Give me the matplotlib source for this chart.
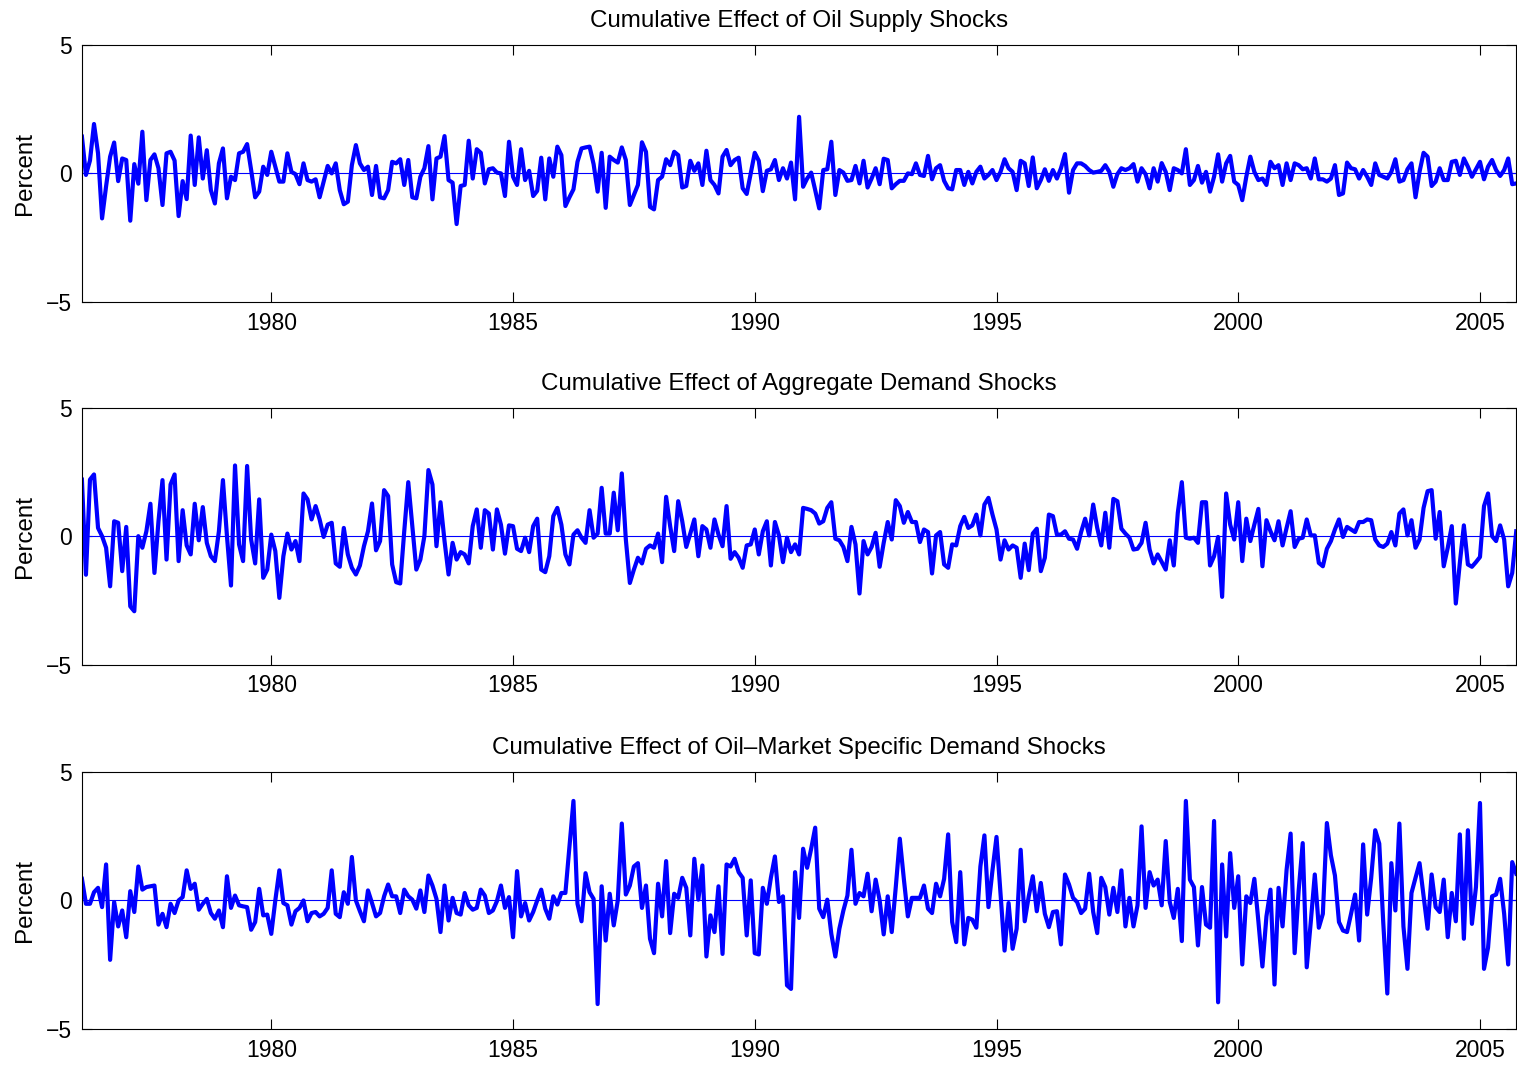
import numpy as np
import matplotlib
matplotlib.use("Agg")
import matplotlib.pyplot as plt

plt.rcParams['font.family'] = ['Liberation Sans', 'DejaVu Sans']

# monthly observations, Feb 1976 .. Oct 2005
months = 1976 + np.arange(1, 358) / 12.0

oil_supply = [
    1.43, -0.06, 0.5, 1.92, 0.78, -1.75, -0.5, 0.65, 1.2, -0.3,
    0.58, 0.52, -1.84, 0.36, -0.4, 1.62, -1.04, 0.52, 0.74, 0.2,
    -1.23, 0.78, 0.84, 0.5, -1.66, -0.3, -1.0, 1.47, -0.45, 1.4,
    -0.2, 0.9, -0.65, -1.17, 0.39, 0.97, -0.97, -0.13, -0.26, 0.78,
    0.84, 1.14, 0.13, -0.93, -0.71, 0.26, -0.06, 0.84, 0.26, -0.32,
    -0.32, 0.78, 0.06, -0.03, -0.42, 0.39, -0.26, -0.32, -0.23, -0.93,
    -0.32, 0.29, 0.0, 0.39, -0.65, -1.2, -1.1, 0.32, 1.1, 0.39,
    0.13, 0.26, -0.84, 0.29, -0.93, -0.97, -0.65, 0.45, 0.39, 0.55,
    -0.45, 0.52, -0.93, -0.97, -0.13, 0.2, 1.06, -1.01, 0.58, 0.65,
    1.45, -0.26, -0.36, -1.97, -0.49, -0.45, 1.27, -0.2, 0.94, 0.8,
    -0.39, 0.16, 0.2, 0.03, 0.0, -0.88, 1.23, -0.13, -0.45, 0.94,
    -0.26, 0.1, -0.88, -0.68, 0.61, -1.01, 0.58, -0.13, 1.04, 0.71,
    -1.27, -0.93, -0.62, 0.45, 0.97, 1.01, 1.04, 0.36, -0.71, 0.8,
    -1.34, 0.65, 0.52, 0.42, 1.01, 0.52, -1.23, -0.84, -0.45, 1.21,
    0.84, -1.3, -1.4, -0.26, -0.13, 0.55, 0.32, 0.84, 0.71, -0.55,
    -0.49, 0.49, 0.1, 0.39, -0.45, 0.88, -0.26, -0.45, -0.78, 0.65,
    0.91, 0.32, 0.52, 0.61, -0.58, -0.8, 0.0, 0.8, 0.49, -0.69,
    0.1, 0.16, 0.52, -0.26, 0.2, -0.2, 0.42, -1.01, 2.2, -0.52,
    -0.2, 0.03, -0.65, -1.36, 0.13, 0.16, 1.23, -0.84, 0.13, 0.03,
    -0.29, -0.26, 0.29, -0.39, 0.49, -0.55, -0.2, 0.2, -0.42, 0.57,
    0.52, -0.58, -0.42, -0.29, -0.29, 0.0, -0.03, 0.39, -0.06, -0.1,
    0.68, -0.23, 0.2, 0.32, -0.29, -0.58, -0.62, 0.13, 0.13, -0.45,
    0.06, -0.39, 0.06, 0.26, -0.2, -0.06, 0.13, -0.26, 0.06, 0.55,
    0.2, 0.06, -0.65, 0.49, 0.39, -0.49, 0.62, -0.58, -0.26, 0.16,
    -0.29, 0.13, -0.2, 0.2, 0.75, -0.75, 0.13, 0.39, 0.39, 0.29,
    0.13, 0.03, 0.06, 0.1, 0.32, 0.06, -0.52, -0.03, 0.2, 0.13,
    0.2, 0.36, -0.32, 0.2, -0.03, -0.58, 0.2, -0.32, 0.4, 0.06,
    -0.65, 0.2, 0.13, 0.0, 0.94, -0.45, -0.26, 0.29, -0.36, 0.06,
    -0.71, -0.13, 0.74, -0.32, 0.39, 0.68, -0.32, -0.45, -1.04, -0.13,
    0.65, 0.06, -0.26, -0.2, -0.45, 0.45, 0.2, 0.32, -0.45, 0.39,
    -0.26, 0.39, 0.32, 0.16, 0.2, -0.2, 0.58, -0.23, -0.23, -0.32,
    -0.2, 0.32, -0.84, -0.78, 0.42, 0.2, 0.16, -0.2, 0.13, -0.13,
    -0.45, 0.39, -0.06, -0.13, -0.2, 0.06, 0.55, -0.32, -0.26, 0.16,
    0.39, -0.93, 0.06, 0.8, 0.65, -0.49, -0.32, 0.2, -0.26, -0.26,
    0.45, 0.49, -0.06, 0.58, 0.26, -0.13, 0.16, 0.45, -0.23, 0.26,
    0.52, 0.13, -0.1, 0.13, 0.58, -0.42, -0.39,
]

aggregate_demand = [
    2.2, -1.5, 2.2, 2.4, 0.32, 0.0, -0.45, -1.95, 0.58, 0.52,
    -1.36, 0.36, -2.73, -2.92, 0.0, -0.45, 0.19, 1.26, -1.43, 0.58,
    2.18, -0.91, 2.01, 2.4, -0.97, 1.01, -0.36, -0.71, 1.26, -0.16,
    1.13, -0.26, -0.78, -0.97, 0.19, 2.18, 0.0, -1.92, 2.75, -0.32,
    -0.97, 2.73, -0.13, -1.06, 1.43, -1.62, -1.3, 0.06, -0.58, -2.4,
    -0.78, 0.1, -0.52, -0.19, -0.97, 1.66, 1.43, 0.65, 1.17, 0.65,
    -0.03, 0.45, 0.52, -1.06, -1.19, 0.32, -0.71, -1.23, -1.49, -1.14,
    -0.39, 0.19, 1.27, -0.55, -0.19, 1.79, 1.56, -1.1, -1.79, -1.84,
    0.19, 2.1, 0.39, -1.3, -0.91, 0.0, 2.57, 2.01, -0.39, 1.32,
    -0.19, -1.49, -0.26, -0.91, -0.62, -0.71, -1.06, 0.39, 1.04, -0.45,
    1.01, 0.88, -0.52, 1.04, 0.45, -0.68, 0.42, 0.39, -0.49, -0.58,
    -0.06, -0.62, 0.39, 0.68, -1.3, -1.4, -0.78, 0.78, 1.1, 0.45,
    -0.71, -1.1, 0.06, 0.23, -0.06, -0.26, 1.01, -0.06, 0.1, 1.88,
    0.1, 0.1, 1.69, 0.23, 2.44, -0.13, -1.82, -1.3, -0.84, -1.06,
    -0.49, -0.36, -0.45, 0.1, -1.01, 1.53, 0.39, -0.58, 1.36, 0.58,
    -0.42, 0.1, 0.65, -0.78, 0.39, 0.26, -0.45, 0.65, 0.06, -0.39,
    1.17, -0.88, -0.62, -0.84, -1.23, -0.36, -0.32, 0.26, -0.71, 0.19,
    0.58, -1.14, 0.55, 0.03, -1.01, -0.06, -0.62, -0.32, -0.71, 1.1,
    1.06, 1.01, 0.88, 0.49, 0.58, 1.1, 1.32, -0.1, -0.16, -0.42,
    -0.97, 0.36, -0.32, -2.23, -0.19, -0.71, -0.42, 0.13, -1.19, -0.26,
    0.55, -0.13, 1.4, 1.17, 0.52, 0.94, 0.55, 0.55, -0.23, 0.26,
    0.16, -1.45, 0.03, 0.16, -1.1, -1.23, -0.32, -0.36, 0.39, 0.75,
    0.32, 0.42, 0.84, 0.03, 1.23, 1.49, 0.84, 0.26, -0.91, -0.16,
    -0.52, -0.36, -0.45, -1.62, -0.29, -1.32, 0.1, 0.29, -1.36, -0.84,
    0.84, 0.78, 0.06, 0.06, 0.19, -0.1, -0.13, -0.49, 0.16, 0.68,
    0.03, 1.23, 0.32, -0.36, 0.91, -0.45, 1.45, 1.36, 0.29, 0.1,
    -0.06, -0.52, -0.49, -0.26, 0.52, -0.52, -1.06, -0.71, -1.0, -1.3,
    -0.16, -1.14, 0.91, 2.1, -0.06, -0.1, -0.06, -0.26, 1.32, 1.32,
    -1.14, -0.78, -0.03, -2.36, 1.66, 0.45, -0.13, 1.32, -0.97, 0.68,
    -0.19, 0.45, 1.06, -1.17, 0.62, 0.19, -0.16, 0.58, -0.36, 0.32,
    0.97, -0.42, -0.1, -0.06, 0.65, 0.03, 0.03, -1.04, -1.17, -0.49,
    -0.19, 0.26, 0.65, -0.03, 0.36, 0.26, 0.16, 0.55, 0.55, 0.65,
    0.62, -0.13, -0.36, -0.42, -0.29, 0.16, -0.36, 0.88, 1.04, 0.03,
    0.62, -0.45, -0.13, 1.1, 1.75, 1.79, -0.1, 0.94, -1.17, -0.45,
    0.39, -2.62, -1.04, 0.42, -1.1, -1.19, -1.01, -0.81, 1.17, 1.66,
    0.0, -0.19, 0.42, -0.13, -1.95, -1.43, 0.19,
]

oil_specific_demand = [
    0.84, -0.13, -0.13, 0.32, 0.49, -0.26, 1.4, -2.31, -0.06, -1.01,
    -0.39, -1.43, 0.36, -0.45, 1.32, 0.42, 0.52, 0.55, 0.58, -0.94,
    -0.52, -1.04, -0.13, -0.49, 0.0, 0.13, 1.17, 0.45, 0.65, -0.36,
    -0.13, 0.06, -0.49, -0.71, -0.39, -1.04, 0.94, -0.29, 0.19, -0.19,
    -0.23, -0.26, -1.14, -0.84, 0.45, -0.58, -0.55, -1.3, 0.0, 1.17,
    -0.1, -0.19, -0.94, -0.42, -0.29, 0.0, -0.81, -0.49, -0.45, -0.62,
    -0.52, -0.29, 1.17, -0.52, -0.65, 0.32, -0.13, 1.69, 0.0, -0.42,
    -0.81, 0.39, -0.1, -0.62, -0.49, 0.16, 0.62, 0.16, 0.16, -0.49,
    0.42, 0.16, 0.03, -0.32, 0.39, -0.45, 0.97, 0.58, 0.06, -1.23,
    0.58, -0.78, 0.1, -0.49, -0.55, 0.29, -0.19, -0.36, -0.29, 0.42,
    0.19, -0.49, -0.39, -0.03, 0.58, -0.29, 0.13, -1.43, 1.14, -0.62,
    -0.1, -0.78, -0.45, 0.0, 0.42, -0.32, -0.71, 0.16, -0.16, 0.29,
    0.29, 2.1, 3.87, -0.13, -0.81, 1.06, 0.32, 0.06, -4.03, 0.55,
    -1.56, 0.26, -0.97, 0.0, 2.99, 0.23, 0.58, 1.32, 1.45, -0.29,
    0.58, -1.49, -2.05, 0.65, -0.62, 1.53, -1.27, 0.26, 0.1, 0.88,
    0.49, -1.36, 1.62, 0.03, 1.36, -2.18, -0.58, -1.23, 0.55, -2.08,
    1.4, 1.32, 1.62, 1.1, 0.88, -1.36, 0.78, -2.05, -2.1, 0.49,
    -0.13, 0.88, 1.71, -0.06, 0.16, -3.3, -3.44, 1.1, -0.68, 2.01,
    1.27, 2.01, 2.83, -0.32, -0.65, 0.03, -1.3, -2.18, -1.1, -0.39,
    0.19, 1.97, -0.13, 0.29, 0.16, 1.04, -0.42, 0.81, 0.0, -1.32,
    0.16, -1.23, 0.52, 2.4, 0.84, -0.62, 0.1, 0.1, 0.1, 0.58,
    -0.32, -0.49, 0.65, 0.16, 0.84, 2.57, -0.84, -1.62, 1.1, -1.71,
    -0.68, -0.75, -1.06, 1.32, 2.53, -0.26, 1.17, 2.47, 0.26, -1.95,
    -0.1, -1.88, -1.1, 1.97, -0.81, 0.16, 0.94, -0.42, 0.68, -0.52,
    -1.04, -0.45, -0.42, -1.71, 1.01, 0.62, 0.1, -0.06, -0.49, -0.32,
    1.04, -0.45, -1.27, 0.88, 0.52, -0.55, 0.49, -0.45, 1.17, -1.01,
    0.1, -1.01, -0.19, 2.88, -0.29, 1.1, 0.58, 0.81, -0.19, 2.31,
    -0.06, -0.68, 0.45, -1.58, 3.87, 0.81, 0.52, -1.75, 0.52, -0.94,
    -1.06, 3.09, -3.96, 1.4, -1.4, 1.84, -0.29, 0.94, -2.49, 0.16,
    -0.1, 0.84, -0.81, -2.57, -0.62, 0.42, -3.27, 0.49, -1.01, 1.19,
    2.6, -2.05, 0.39, 2.23, -2.6, -0.84, 1.01, -1.06, -0.52, 3.01,
    1.75, 0.97, -0.84, -1.17, -1.23, -0.52, 0.23, -1.56, 2.18, -0.55,
    0.88, 2.73, 2.21, -0.88, -3.62, 1.45, -0.39, 2.99, -1.01, -2.66,
    0.29, 0.88, 1.45, 0.16, -1.1, 1.01, -0.26, -0.45, 0.81, -1.43,
    0.29, -0.81, 2.57, -1.49, 2.73, -0.91, 0.52, 3.79, -2.66, -1.84,
    0.16, 0.23, 0.84, -0.52, -2.49, 1.49, 1.04,
]

titles = [
    "Cumulative Effect of Oil Supply Shocks",
    "Cumulative Effect of Aggregate Demand Shocks",
    "Cumulative Effect of Oil\u2013Market Specific Demand Shocks",
]
series = [oil_supply, aggregate_demand, oil_specific_demand]
year_ticks = [1980, 1985, 1990, 1995, 2000, 2005]

fig = plt.figure(figsize=(15.17, 10.67), dpi=100)
bottoms = [0.717, 0.377, 0.0356]

for b, title, y in zip(bottoms, titles, series):
    ax = fig.add_axes([0.054, b, 0.9455, 0.241])
    ax.plot(months, y, color=(0, 0, 1), linewidth=3.0)
    ax.axhline(0, color=(0, 0, 1), linewidth=0.8)
    ax.set_xlim(months[0], months[-1])
    ax.set_ylim(-5, 5)
    ax.set_yticks([-5, 0, 5])
    ax.set_xticks(year_ticks)
    ax.tick_params(direction='in', top=True, right=True, length=7,
                   width=0.8, labelsize=16.5, pad=7)
    ax.set_title(title, fontsize=17.4, pad=13)
    ax.set_ylabel("Percent", fontsize=17.4, labelpad=7)
    for s in ax.spines.values():
        s.set_linewidth(0.8)

fig.savefig("out.png", dpi=100)
